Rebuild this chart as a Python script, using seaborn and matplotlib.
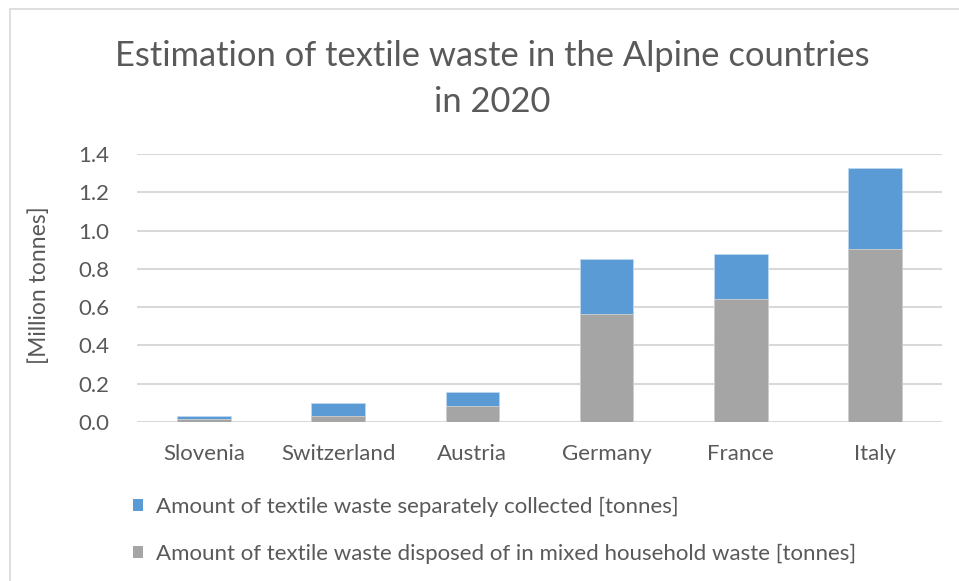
import matplotlib
matplotlib.use("Agg")
import matplotlib.pyplot as plt
from matplotlib.patches import Patch, Rectangle
import numpy as np
import pandas as pd
import seaborn as sns

countries = ["Slovenia", "Switzerland", "Austria", "Germany", "France", "Italy"]
mixed_household = [0.016, 0.031, 0.085, 0.563, 0.641, 0.904]      # million tonnes
separately_collected = [0.016, 0.067, 0.073, 0.287, 0.235, 0.421]  # million tonnes
y_ticks = [0.0, 0.2, 0.4, 0.6, 0.8, 1.0, 1.2, 1.4]

label_collected = "Amount of textile waste separately collected [tonnes]"
label_mixed = "Amount of textile waste disposed of in mixed household waste [tonnes]"

BLUE = "#5B9BD5"
GREY = "#A5A5A5"
TEXT = "#595959"
GRID = "#D9D9D9"

sns.set_theme(style="white")
plt.rcParams["font.family"] = ["Lato", "DejaVu Sans"]

df = pd.DataFrame({
    "country": countries,
    "mixed": mixed_household,
    "collected": separately_collected,
})
df["total"] = df["mixed"] + df["collected"]

fig = plt.figure(figsize=(9.59, 5.81), dpi=100)
ax = fig.add_axes([137 / 959, 1 - 422 / 581, (942 - 137) / 959, (422 - 154) / 581])

# stacked bars: full height in blue, household part in grey drawn over it
sns.barplot(data=df, x="country", y="total", color=BLUE, width=0.4,
            saturation=1, edgecolor="#BDD7EE", linewidth=0.6, ax=ax, zorder=3)
sns.barplot(data=df, x="country", y="mixed", color=GREY, width=0.4,
            saturation=1, edgecolor="#D0D0D0", linewidth=0.6, ax=ax, zorder=4)

ax.set_ylim(0, 1.4)
ax.set_xlim(-0.5, len(countries) - 0.5)
ax.set_yticks(y_ticks)
ax.set_yticklabels([f"{v:.1f}" for v in y_ticks])
ax.yaxis.grid(True, color=GRID, linewidth=1.5)
ax.set_axisbelow(True)
for s in ax.spines.values():
    s.set_visible(False)
ax.tick_params(axis="both", length=0, labelsize=16, labelcolor=TEXT)
ax.tick_params(axis="y", pad=20)
ax.tick_params(axis="x", pad=16)
ax.set_xlabel("")
ax.set_ylabel("[Million tonnes]", fontsize=16.5, color=TEXT)
ax.yaxis.set_label_coords(-0.108, 0.51)

fig.text(492 / 959, 1 - 79 / 581, "Estimation of textile waste in the Alpine countries\nin 2020",
         ha="center", va="center", fontsize=24.8, color=TEXT, linespacing=1.5)

handles = [Patch(facecolor=BLUE, edgecolor="none"), Patch(facecolor=GREY, edgecolor="none")]
fig.legend(handles, [label_collected, label_mixed], loc="upper left",
           bbox_to_anchor=(133 / 959, 1 - 497 / 581), frameon=False,
           fontsize=16, labelcolor=TEXT, handlelength=0.45, handleheight=0.45,
           handletextpad=0.6, labelspacing=1.2, borderpad=0, borderaxespad=0)

# chart-area border
fig.patches.append(Rectangle((10 / 959, -0.05), 1.1, 1 - 9 / 581 + 0.05,
                             transform=fig.transFigure, fill=False,
                             edgecolor="#D9D9D9", linewidth=1.2))

fig.savefig("out.png", dpi=100)
